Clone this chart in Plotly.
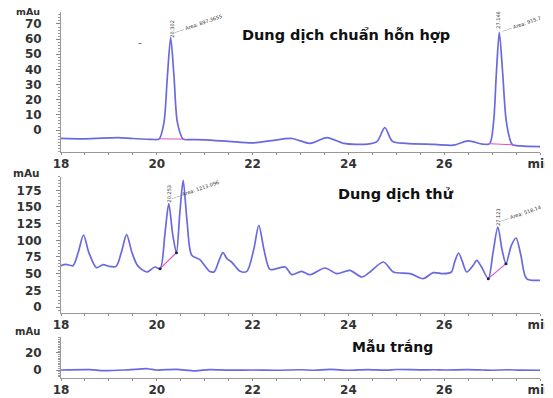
import plotly.graph_objects as go

# ---------------- data ----------------
# Panel 1: standard mixture
t_std = [18.0, 18.5, 19.0, 19.2, 19.5, 19.9, 20.05, 20.15, 20.22, 20.29, 20.36, 20.43, 20.55,
         20.7, 21.0, 21.5, 22.0, 22.4, 22.82, 23.2, 23.55, 23.9, 24.4, 24.6, 24.76, 24.92,
         25.2, 25.8, 26.2, 26.5, 26.8, 26.95, 27.03, 27.09, 27.15, 27.22, 27.3, 27.42, 27.6, 28.0]
v_std = [-5.5, -5.8, -5.2, -5.0, -5.6, -6.2, -5.8, 5, 35, 61, 35, 5, -6.0,
         -6.3, -6.5, -7.5, -8.5, -7.0, -5.6, -8.8, -5.0, -8.8, -9.3, -7.5, 1.6, -7.5,
         -8.8, -9.5, -10.0, -7.2, -9.3, -9.0, 5, 38, 64.5, 38, 5, -9.5, -10.5, -11.0]

# Panel 2: sample solution
t_smp = [18.0, 18.1, 18.25, 18.36, 18.47, 18.58, 18.74, 18.88, 19.0, 19.15, 19.26, 19.37, 19.48,
         19.6, 19.79, 19.96, 20.07, 20.17, 20.25, 20.33, 20.41, 20.48, 20.55, 20.63, 20.73,
         20.9, 21.1, 21.2, 21.3, 21.38, 21.47, 21.56, 21.74, 21.88, 22.02, 22.13, 22.24, 22.36,
         22.5, 22.68, 22.82, 23.02, 23.2, 23.51, 23.76, 24.03, 24.28, 24.45, 24.73, 24.94,
         25.29, 25.56, 25.77, 25.98, 26.15, 26.22, 26.3, 26.38, 26.47, 26.6, 26.68, 26.78, 26.92,
         27.02, 27.12, 27.21, 27.29, 27.4, 27.5, 27.6, 27.72, 28.0]
v_smp = [62, 64, 62, 82, 108, 82, 59, 63.5, 61, 61, 82, 108.5, 82,
         62, 52.5, 60, 57.5, 110, 155, 110, 81.5, 140, 190, 130, 77.5,
         71, 53.5, 53, 70, 81.5, 72, 67.5, 53.5, 53.5, 85, 122.5, 85, 56.5,
         57.5, 60, 48.5, 53.5, 48.5, 58.5, 50, 55, 45, 52.5, 67.5, 52.5,
         50, 42.5, 51.5, 50, 52.5, 68, 81, 68, 52.5, 62, 70, 60, 42.5,
         82, 120, 85, 65, 92, 103.5, 78, 42.5, 40]

# Panel 3: blank
t_blk = [18.0, 18.6, 18.9, 19.4, 19.8, 20.0, 20.4, 20.8, 21.1, 21.5, 22.0, 22.5, 23.0, 23.3,
         23.6, 24.0, 24.4, 24.8, 25.0, 25.5, 25.8, 26.0, 26.5, 26.8, 27.0, 27.3, 27.6, 28.0]
v_blk = [0.0, 0.5, -0.8, 0.2, 1.5, 0.0, 0.8, -1.0, 0.5, -0.2, 0.0, -0.3, 0.3, -0.3,
         0.8, -0.3, 0.5, -0.2, 0.6, 0.2, 0.3, 0.0, 0.4, 0.0, -0.3, 0.3, -0.2, -0.3]

# integration baselines (start/end points)
base_std = [([20.05, 20.58], [-5.8, -6.0]), ([26.93, 27.45], [-9.0, -9.8])]
base_smp = [([20.07, 20.41], [57.5, 81.5]), ([26.92, 27.29], [42.5, 65])]

x_ticks = [18, 20, 22, 24, 26, 28]
x_ticktext = ["18", "20", "22", "24", "26", "min"]
y1_ticks = [0, 10, 20, 30, 40, 50, 60, 70]
y2_ticks = [0, 25, 50, 75, 100, 125, 150, 175]
y3_ticks = [0, 20]

titles = ["Dung dịch chuẩn hỗn hợp", "Dung dịch thử", "Mẫu trắng"]
peak_labels = [("20.302", "Area: 897.3655"), ("27.146", "Area: 915.7"),
               ("20.253", "Area: 1213.096"), ("27.121", "Area: 518.14")]

# ---------------- figure ----------------
LINE = "#6a6ae0"
PINK = "#e050cc"
FONT = "DejaVu Sans"
TXT = "#333333"

fig = go.Figure()
for (tx, vy, ax) in [(t_std, v_std, "y"), (t_smp, v_smp, "y2"), (t_blk, v_blk, "y3")]:
    fig.add_trace(go.Scatter(x=tx, y=vy, xaxis="x" if ax == "y" else "x" + ax[1], yaxis=ax,
                             mode="lines", line=dict(color=LINE, width=1.7, shape="spline", smoothing=0.8),
                             hoverinfo="skip", showlegend=False))
for bx, by in base_std:
    fig.add_trace(go.Scatter(x=bx, y=by, xaxis="x", yaxis="y", mode="lines",
                             line=dict(color=PINK, width=1), showlegend=False))
for bx, by in base_smp:
    fig.add_trace(go.Scatter(x=bx, y=by, xaxis="x2", yaxis="y2", mode="lines+markers",
                             line=dict(color=PINK, width=1.2), marker=dict(color="#202040", size=3),
                             showlegend=False))

# plot area spans 366 px (t=4, b=20 in a 390 px figure)
domains = [[0.6175, 1.0], [0.1776, 0.5492], [0.0, 0.112]]
ranges = [[-14.5, 77.9], [-9, 195], [-9.4, 38.8]]
yticks = [y1_ticks, y2_ticks, y3_ticks]
minor_d = [2, 5, 2]

axis_common = dict(showgrid=False, zeroline=False, showline=True, linecolor="#999999", linewidth=1,
                   ticks="outside", tickcolor="#888888", automargin=False,
                   tickfont=dict(family=FONT, size=12, color=TXT, weight="bold"))
for i in range(3):
    sfx = "" if i == 0 else str(i + 1)
    fig.layout["xaxis" + sfx] = dict(axis_common, domain=[0, 1], range=[18, 28], anchor="y" + sfx,
                                     tickvals=x_ticks, ticktext=x_ticktext, ticklen=1,
                                     minor=dict(dtick=0.5, tick0=18, ticks="outside", ticklen=2,
                                                tickcolor="#888888"))
    fig.layout["yaxis" + sfx] = dict(axis_common, domain=domains[i], range=ranges[i], anchor="x" + sfx,
                                     tickvals=yticks[i], ticklen=4, ticklabelstandoff=12,
                                     minor=dict(dtick=minor_d[i], ticks="outside", ticklen=2,
                                                tickcolor="#999999"))

ann = []
# mAu labels
for yp, fs, ys in [(1.0, 9.5, 1), (0.5601, 10.5, 0), (0.127, 10, 0)]:
    ann.append(dict(text="mAu", xref="paper", yref="paper", x=-0.04, y=yp, xanchor="right",
                    yanchor="middle", yshift=ys, showarrow=False,
                    font=dict(family=FONT, size=fs, color=TXT, weight="bold")))
# panel titles
for (txt, xr, yr, xv, yv, fs) in [(titles[0], "x", "y", 23.95, 63, 14.5), (titles[1], "x2", "y2", 25.0, 170, 14.5),
                                  (titles[2], "x3", "y3", 24.93, 27, 14)]:
    ann.append(dict(text=txt, xref=xr, yref=yr, x=xv, y=yv, showarrow=False,
                    font=dict(family=FONT, size=fs, color="#111111", weight="bold")))
# peak labels
pk = [("x", "y", 20.3, 67, 20.86, 70), ("x", "y", 27.13, 73, 27.62, 70),
      ("x2", "y2", 20.25, 170, 20.8, 175), ("x2", "y2", 27.12, 135, 27.58, 139)]
for (lab, (xr, yr, xv, yv, xd, yd)) in zip(peak_labels, pk):
    ann.append(dict(text=lab[0], xref=xr, yref=yr, x=xv, y=yv, showarrow=False, textangle=-90,
                    font=dict(family=FONT, size=5, color="#333333")))
    ann.append(dict(text="—— " + lab[1], xref=xr, yref=yr, x=xd, y=yd, showarrow=False, textangle=-19,
                    font=dict(family=FONT, size=5, color="#333333")))
ann.append(dict(text="–", xref="x", yref="y", x=19.65, y=57, showarrow=False,
                font=dict(family=FONT, size=8, color="#333333")))

# the page body has an 8px default margin, so the figure is sized to fit the window
fig.update_layout(width=545, height=390, margin=dict(l=53, r=13, t=4, b=20, autoexpand=False),
                  paper_bgcolor="white", plot_bgcolor="white", annotations=ann, showlegend=False)
fig.write_html("out.html")
